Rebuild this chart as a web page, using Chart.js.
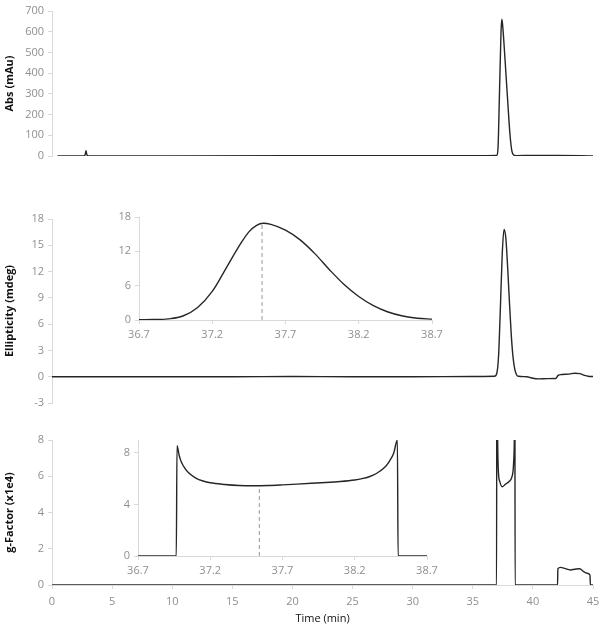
<!DOCTYPE html>
<html>
<head>
<meta charset="utf-8">
<script src="https://cdn.jsdelivr.net/npm/chart.js@4.4.0/dist/chart.umd.min.js"></script>
<style>
  body { margin: 0; background: #fff; }
  #wrap { position: relative; width: 606px; height: 632px; }
  canvas { position: absolute; }
</style>
</head>
<body>
<div id="wrap">
  <canvas id="absChart" style="left:0;top:0" width="606" height="170"></canvas>
  <canvas id="cdChart" style="left:0;top:180px" width="606" height="240"></canvas>
  <canvas id="gChart" style="left:0;top:420px" width="606" height="212"></canvas>
  <canvas id="cdZoom" style="left:80px;top:200px" width="380" height="150"></canvas>
  <canvas id="gZoom" style="left:80px;top:425px" width="380" height="150"></canvas>
</div>
<script>
// absorbance trace (mAu)
var absTime  = [0.45, 2.7, 2.78, 2.83, 2.88, 2.95, 3.1, 10, 20, 25, 30, 35, 37.0, 37.1, 37.22, 37.35, 37.42, 37.5, 37.7, 37.9, 38.1, 38.25, 38.4, 38.6, 40, 42, 44, 45];
var absValue = [0, 0, 12, 26, 10, 2, 0, 0, 1, 2, 2, 2, 3, 40, 300, 600, 660, 620, 450, 270, 100, 25, 5, 2, 3, 3, 2, 0];

// CD ellipticity trace (mdeg)
var cdTime  = [0, 5, 10, 15, 20, 25, 30, 35, 36.8, 37.0, 37.15, 37.3, 37.45, 37.6, 37.75, 37.9, 38.05, 38.2, 38.35, 38.5, 38.65, 38.8, 39.5, 39.9, 40.5, 41.2, 41.9, 42.1, 42.4, 43.0, 43.5, 43.9, 44.3, 44.6, 45];
var cdValue = [0, 0, 0, 0, 0.02, 0, 0, 0.02, 0.05, 0.4, 2.5, 8, 14, 16.8, 15.8, 12.5, 8.5, 4.8, 2.2, 0.8, 0.2, 0.05, 0, -0.15, -0.25, -0.22, -0.2, 0.15, 0.25, 0.3, 0.4, 0.35, 0.15, 0.05, 0.02];

// CD inset (zoom on the main peak)
var cdZoomTime  = [36.7, 36.8, 36.9, 37.0, 37.1, 37.2, 37.3, 37.4, 37.45, 37.5, 37.55, 37.6, 37.7, 37.8, 37.9, 38.0, 38.1, 38.2, 38.3, 38.4, 38.5, 38.6, 38.7];
var cdZoomValue = [0.05, 0.08, 0.2, 0.7, 2.2, 5.0, 9.3, 13.6, 15.4, 16.5, 16.9, 16.7, 15.7, 14.0, 11.6, 8.8, 6.2, 4.1, 2.5, 1.4, 0.7, 0.3, 0.15];

// g-factor trace (x1e4)
var gTime  = [0, 36.98, 37.0, 37.05, 37.12, 37.25, 37.45, 37.7, 38.0, 38.25, 38.4, 38.47, 38.5, 38.52, 42.05, 42.08, 42.3, 42.7, 43.1, 43.5, 43.9, 44.2, 44.5, 44.75, 44.78, 45];
var gValue = [0, 0, 14, 9, 6.4, 5.7, 5.42, 5.55, 5.7, 5.95, 6.8, 9, 14, 0, 0, 0.9, 0.97, 0.9, 0.83, 0.87, 0.9, 0.75, 0.65, 0.55, 0, 0];

// g-factor inset
var gZoomTime  = [36.7, 36.965, 36.97, 36.985, 37.0, 37.025, 37.05, 37.1, 37.15, 37.2, 37.3, 37.4, 37.5, 37.6, 37.7, 37.8, 37.9, 38.0, 38.1, 38.2, 38.25, 38.3, 38.35, 38.4, 38.44, 38.47, 38.495, 38.5, 38.7];
var gZoomValue = [0, 0, 8.55, 7.8, 7.3, 6.8, 6.45, 6.05, 5.82, 5.68, 5.55, 5.47, 5.45, 5.47, 5.52, 5.58, 5.64, 5.7, 5.78, 5.9, 6.0, 6.15, 6.4, 6.8, 7.35, 8.0, 9.0, 0, 0];

// dashed marker at the CD maximum
var markerTime = 37.54;
var cdMarkerTop = 16.9;
var gMarkerTop = 5.45;

// tick labels
var timeTicks = [0, 5, 10, 15, 20, 25, 30, 35, 40, 45];
var absTicks = [0, 100, 200, 300, 400, 500, 600, 700];
var cdTicks = [-3, 0, 3, 6, 9, 12, 15, 18];
var gTicks = [0, 2, 4, 6, 8];
var zoomTimeTicks = [36.7, 37.2, 37.7, 38.2, 38.7];
var cdZoomTicks = [0, 6, 12, 18];
var gZoomTicks = [0, 4, 8];

var axisGray = '#d9d9d9';
var labelGray = '#8f8f8f';
var lineColor = '#262626';
var tickFont = { family: 'Open Sans', size: 11 };

function points(xs, ys) {
  return xs.map(function (x, i) { return { x: x, y: ys[i] }; });
}

function trace(xs, ys) {
  return {
    data: points(xs, ys),
    borderColor: lineColor,
    borderWidth: 1.4,
    pointRadius: 0,
    cubicInterpolationMode: 'monotone',
    fill: false
  };
}

function marker(top) {
  return {
    data: [{ x: markerTime, y: 0 }, { x: markerTime, y: top }],
    borderColor: '#aaaaaa',
    borderWidth: 1.2,
    borderDash: [4, 3],
    pointRadius: 0,
    fill: false
  };
}

function axis(min, max, list, opts) {
  var s = {
    type: 'linear',
    min: min,
    max: max,
    display: opts.display !== false,
    afterBuildTicks: function (scale) {
      scale.ticks = list.map(function (v) { return { value: v }; });
    },
    ticks: { color: labelGray, font: tickFont, padding: opts.tickPad || 4, autoSkip: false, maxRotation: 0 },
    grid: { drawOnChartArea: false, color: axisGray, tickLength: 4 },
    border: { color: axisGray },
    title: { display: false }
  };
  if (opts.title) {
    s.title = {
      display: true,
      text: opts.title,
      color: '#111',
      font: { family: 'Open Sans', size: 11, weight: opts.bold ? 'bold' : 'normal' },
      padding: { top: 3, bottom: 0 }
    };
  }
  if (opts.width) s.afterFit = function (scale) { scale.width = opts.width; };
  if (opts.height) s.afterFit = function (scale) { scale.height = opts.height; };
  return s;
}

function makeChart(id, datasets, xScale, yScale, padding) {
  return new Chart(document.getElementById(id).getContext('2d'), {
    type: 'line',
    data: { datasets: datasets },
    options: {
      responsive: false,
      animation: false,
      layout: { padding: padding },
      plugins: { legend: { display: false }, tooltip: { enabled: false } },
      scales: { x: xScale, y: yScale }
    }
  });
}

// Abs panel
makeChart('absChart', [trace(absTime, absValue)],
  axis(0, 45, timeTicks, { display: false }),
  axis(0, 700, absTicks, { title: 'Abs (mAu)', bold: true, width: 52 }),
  { left: 0, right: 13, top: 11, bottom: 14 });

// Ellipticity panel
makeChart('cdChart', [trace(cdTime, cdValue)],
  axis(0, 45, timeTicks, { display: false }),
  axis(-3, 18, cdTicks, { title: 'Ellipticity (mdeg)', bold: true, width: 52 }),
  { left: 0, right: 13, top: 39, bottom: 17 });

// g-factor panel
makeChart('gChart', [trace(gTime, gValue)],
  axis(0, 45, timeTicks, { title: 'Time (min)', height: 40, tickPad: 6 }),
  axis(0, 8, gTicks, { title: 'g-Factor (x1e4)', bold: true, width: 52 }),
  { left: 0, right: 13, top: 20, bottom: 7 });

// Ellipticity inset
makeChart('cdZoom', [trace(cdZoomTime, cdZoomValue), marker(cdMarkerTop)],
  axis(36.7, 38.7, zoomTimeTicks, { height: 20 }),
  axis(0, 18, cdZoomTicks, { width: 59 }),
  { left: 0, right: 28, top: 17, bottom: 10 });

// g-factor inset
makeChart('gZoom', [trace(gZoomTime, gZoomValue), marker(gMarkerTop)],
  axis(36.7, 38.7, zoomTimeTicks, { height: 19 }),
  axis(0, 9, gZoomTicks, { width: 58 }),
  { left: 0, right: 33, top: 15, bottom: 0 });
</script>
</body>
</html>
